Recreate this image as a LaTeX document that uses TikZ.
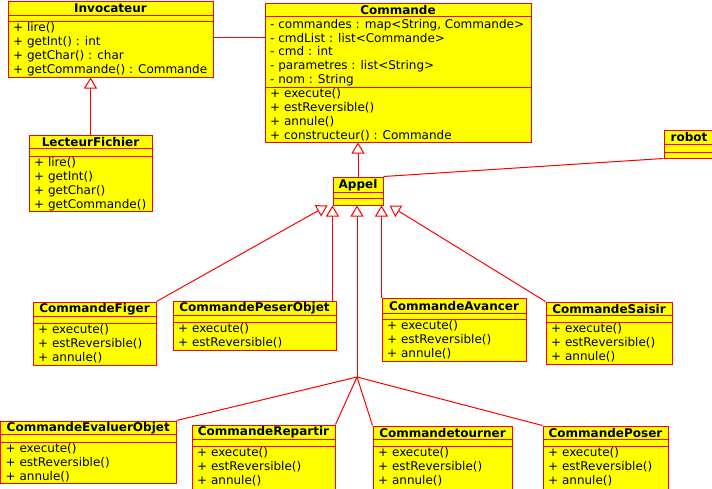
\documentclass[tikz,border=0pt]{standalone}
\usepackage{fontspec}
\setmainfont{DejaVu Sans}
\usetikzlibrary{arrows.meta,fit}
\definecolor{umlred}{RGB}{255,0,0}
\definecolor{umlyellow}{RGB}{255,255,0}
\tikzset{
  classbox/.style={draw=umlred, fill=umlyellow, line width=1pt, inner sep=0pt},
  sepline/.style={draw=umlred, line width=1pt},
  classtitle/.style={font=\fontsize{12}{13.75}\selectfont\bfseries, inner sep=0pt},
  membertext/.style={anchor=north west, align=left, inner sep=0pt, font=\fontsize{12}{13.75}\selectfont},
  connector/.style={draw=umlred, line width=1pt},
  inherit/.style={connector, -{Triangle[fill=white, length=11pt, width=13pt, line width=1pt]}},
}
% name, left, top, right, bottom, sep1, sep2, title, methods
\newcommand{\umlclass}[9]{%
  \node[classbox, fit={(#2,#3) (#4,#5)}] (#1) {};
  \draw[sepline] (#2,#6) -- (#4,#6);
  \draw[sepline] (#2,#7) -- (#4,#7);
  \node[classtitle] (#1-t) at ({(#2+#4)/2},{(#3+#6)/2+0.5}) {#8};
  \node[membertext] (#1-m) at ({#2+5},{#7+1.5}) {#9};
}
\begin{document}
\begin{tikzpicture}[x=1pt,y=-1pt]
\useasboundingbox (0,0) rectangle (712,488);
\fill[white] (0,0) rectangle (712,488);
\clip (0,0) rectangle (712,488);

\umlclass{inv}{8}{1}{213}{77}{15}{21}{Invocateur}{+ lire()\\+ getInt() : int\\+ getChar() : char\\+ getCommande() : Commande}
\umlclass{lf}{29}{135}{152}{211}{148}{156}{LecteurFichier}{+ lire()\\+ getInt()\\+ getChar()\\+ getCommande()}
\umlclass{cmd}{265}{3}{531}{142}{16}{87}{Commande}{+ execute()\\+ estReversible()\\+ annule()\\+ constructeur() : Commande}
\node[membertext] (cmd-a) at (270,19) {- commandes : map<String, Commande>\\- cmdList : list<Commande>\\- cmd : int\\- parametres : list<String>\\- nom : String};
\umlclass{appel}{333}{177}{383}{205}{192}{198}{Appel}{}
\umlclass{robot}{664}{130}{714}{158}{144}{152}{robot}{}
\umlclass{fig}{33}{302}{156}{365}{316}{323}{CommandeFiger}{+ execute()\\+ estReversible()\\+ annule()}
\umlclass{pes}{173}{301}{336}{350}{315}{322}{CommandePeserObjet}{+ execute()\\+ estReversible()}
\umlclass{av}{382}{298}{526}{361}{313}{319}{CommandeAvancer}{+ execute()\\+ estReversible()\\+ annule()}
\umlclass{sai}{546}{302}{672}{364}{315}{322}{CommandeSaisir}{+ execute()\\+ estReversible()\\+ annule()}
\umlclass{eval}{0.5}{421}{176}{483}{434}{442}{CommandeEvaluerObjet}{+ execute()\\+ estReversible()\\+ annule()}
\umlclass{rep}{192}{425}{335}{500}{439}{446}{CommandeRepartir}{+ execute()\\+ estReversible()\\+ annule()}
\umlclass{tour}{373}{426}{512}{500}{439}{446}{Commandetourner}{+ execute()\\+ estReversible()\\+ annule()}
\umlclass{pos}{543}{426}{668}{500}{439}{446}{CommandePoser}{+ execute()\\+ estReversible()\\+ annule()}

\coordinate (j) at (357,377);

\draw[inherit] (lf.north) -- (lf.north |- inv.south);
\draw[connector] ([yshift=2pt]inv.east) -- ([yshift=2pt]inv.east -| cmd.west);
\draw[inherit] (appel.north) -- (appel.north |- cmd.south);
\draw[connector] (robot.south west) -- (appel.north east);
\draw[inherit] (fig.north east) -- ([xshift=-5pt]appel.south west);
\draw[inherit] (appel.south west |- pes.north) -- (appel.south west);
\draw[inherit] (av.north west) -- (av.north west |- appel.south);
\draw[inherit] (j) -- (j |- appel.south);
\draw[inherit] (sai.north west) -- ([xshift=6pt]appel.south east);
\draw[connector] (j) -- (eval.north east);
\draw[connector] (j) -- (rep.north east);
\draw[connector] (j) -- (tour.north west);
\draw[connector] (j) -- (pos.north west);
\end{tikzpicture}
\end{document}
